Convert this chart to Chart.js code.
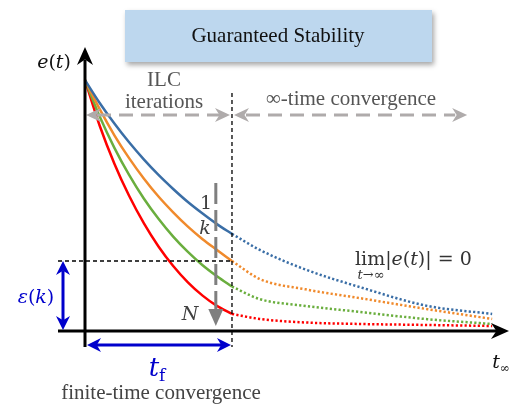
<!DOCTYPE html>
<html>
<head>
<meta charset="utf-8">
<script src="https://cdn.jsdelivr.net/npm/chart.js@4.4.1/dist/chart.umd.min.js"></script>
<style>
  html, body { margin: 0; padding: 0; background: #fff; }
  #wrap { width: 519px; height: 407px; }
</style>
</head>
<body>
<div id="wrap"><canvas id="chart" width="519" height="407"></canvas></div>
<script>
// time, in units of t_f
const tFinite = [0, 0.1, 0.2, 0.3, 0.4, 0.5, 0.6, 0.7, 0.8, 0.9, 1.0];
const tInfinite = [1.0, 1.19, 1.5, 1.87, 2.33, 2.77];

// e(t) per ILC iteration, solid part (0..t_f)
const errIter1 = [1.0, 0.909, 0.827, 0.752, 0.684, 0.622, 0.566, 0.514, 0.468, 0.425, 0.387];
const errIterK = [1.0, 0.884, 0.780, 0.689, 0.608, 0.536, 0.473, 0.416, 0.366, 0.322, 0.279];
const errIterK2 = [1.0, 0.855, 0.730, 0.622, 0.528, 0.447, 0.376, 0.315, 0.262, 0.217, 0.177];
const errIterN = [1.0, 0.818, 0.667, 0.539, 0.430, 0.337, 0.259, 0.194, 0.141, 0.099, 0.068];

// e(t) after t_f (dotted, infinite-time convergence)
const tailIter1 = [0.387, 0.323, 0.245, 0.175, 0.100, 0.068];
const tailIterK = [0.279, 0.207, 0.166, 0.131, 0.087, 0.048];
const tailIterK2 = [0.177, 0.127, 0.100, 0.076, 0.047, 0.028];
const tailIterN = [0.068, 0.048, 0.034, 0.028, 0.024, 0.020];

const colors = {
    blue: '#3a6ea6',
    orange: '#f08a2c',
    green: '#6aae3e',
    red: '#ff0000',
    navy: '#0000cc',
    grayArrow: '#afabab',
    grayIter: '#7f7f7f',
    text: '#555555'
};

const serif = '"Liberation Serif", "Times New Roman", serif';
const math = '"DejaVu Serif", serif';

function pts(ts, es) {
    return ts.map((t, i) => ({ x: t, y: es[i] }));
}

function solid(es, color) {
    return { data: pts(tFinite, es), borderColor: color, borderWidth: 2.5, cubicInterpolationMode: 'monotone', pointRadius: 0, fill: false };
}

function dotted(es, color) {
    return { data: pts(tInfinite, es), borderColor: color, borderWidth: 2.5, borderDash: [2.2, 2.2], borderCapStyle: 'butt', cubicInterpolationMode: 'monotone', pointRadius: 0, fill: false };
}

// filled "stealth" arrow head, tip at (x, y)
function head(ctx, x, y, angle, len, half, color) {
    ctx.save();
    ctx.translate(x, y);
    ctx.rotate(angle);
    ctx.beginPath();
    ctx.moveTo(0, 0);
    ctx.lineTo(-len, -half);
    ctx.lineTo(-len * 0.7, 0);
    ctx.lineTo(-len, half);
    ctx.closePath();
    ctx.fillStyle = color;
    ctx.fill();
    ctx.restore();
}

function line(ctx, x1, y1, x2, y2, color, width, dash) {
    ctx.save();
    ctx.beginPath();
    ctx.setLineDash(dash || []);
    ctx.moveTo(x1, y1);
    ctx.lineTo(x2, y2);
    ctx.strokeStyle = color;
    ctx.lineWidth = width;
    ctx.stroke();
    ctx.restore();
}

// text made of runs in different fonts: [text, font, dy]
function rich(ctx, parts, x, y, align) {
    let w = 0;
    parts.forEach(p => { ctx.font = p[1]; w += ctx.measureText(p[0]).width; });
    let cx = align === 'center' ? x - w / 2 : x;
    ctx.textAlign = 'left';
    parts.forEach(p => {
        ctx.font = p[1];
        ctx.fillText(p[0], cx, y + (p[2] || 0));
        cx += ctx.measureText(p[0]).width;
    });
}

const diagram = {
    id: 'diagram',
    afterDatasetsDraw(chart) {
        const ctx = chart.ctx;
        const xs = chart.scales.x, ys = chart.scales.y;
        const px = v => xs.getPixelForValue(v);
        const py = v => ys.getPixelForValue(v);
        const x0 = px(0), y0 = py(0), xf = px(1);
        const yEps = py(tailIterK[0]);

        // title box
        ctx.save();
        ctx.shadowColor = 'rgba(0,0,0,0.35)';
        ctx.shadowBlur = 5;
        ctx.shadowOffsetX = 2;
        ctx.shadowOffsetY = 3;
        ctx.fillStyle = '#bdd7ee';
        ctx.fillRect(125, 10, 307, 52);
        ctx.restore();
        ctx.fillStyle = '#111';
        ctx.font = '21px ' + serif;
        ctx.textAlign = 'center';
        ctx.textBaseline = 'alphabetic';
        ctx.fillText('Guaranteed Stability', 278, 42);

        // t_f and epsilon guides
        line(ctx, xf, 93, xf, y0 + 16, '#000', 1.3, [4, 3]);
        line(ctx, 58, yEps, xf, yEps, '#000', 1.3, [4, 3]);

        // gray double arrows (ILC iterations / infinite-time)
        const ya = py(0.861);
        line(ctx, x0 + 12, ya, xf - 12, ya, colors.grayArrow, 3, [14, 8]);
        head(ctx, x0 + 1, ya, Math.PI, 15, 7, colors.grayArrow);
        head(ctx, xf - 2, ya, 0, 15, 7, colors.grayArrow);
        line(ctx, xf + 14, ya, px(2.6) - 12, ya, colors.grayArrow, 3, [14, 8]);
        head(ctx, xf + 2, ya, Math.PI, 15, 7, colors.grayArrow);
        head(ctx, px(2.6), ya, 0, 15, 7, colors.grayArrow);

        // iteration direction arrow
        const xi = px(0.89);
        line(ctx, xi, 183, xi, 312, colors.grayIter, 3, [21, 6]);
        ctx.save();
        ctx.beginPath();
        ctx.moveTo(xi - 7.5, 309);
        ctx.lineTo(xi + 7.5, 309);
        ctx.lineTo(xi, 326);
        ctx.closePath();
        ctx.fillStyle = colors.grayIter;
        ctx.fill();
        ctx.restore();

        // axes
        line(ctx, x0, y0 + 16, x0, 60, '#000', 3);
        head(ctx, x0, 47, -Math.PI / 2, 18, 8, '#000');
        line(ctx, 58, y0, 498, y0, '#000', 3);
        head(ctx, 509, y0, 0, 18, 8, '#000');

        // epsilon(k) arrow
        line(ctx, 63, yEps + 10, 63, y0 - 10, colors.navy, 3);
        head(ctx, 63, yEps, -Math.PI / 2, 14, 7, colors.navy);
        head(ctx, 63, y0 - 1, Math.PI / 2, 14, 7, colors.navy);

        // t_f arrow
        const yt = y0 + 14;
        line(ctx, x0 + 10, yt, xf - 10, yt, colors.navy, 3);
        head(ctx, x0 + 2, yt, Math.PI, 14, 7, colors.navy);
        head(ctx, xf - 1, yt, 0, 14, 7, colors.navy);

        // labels
        ctx.textBaseline = 'alphabetic';
        ctx.fillStyle = '#111';
        rich(ctx, [['e', 'italic 19px ' + math], ['(', '19px ' + math], ['t', 'italic 19px ' + math], [')', '19px ' + math]], 54, 68, 'center');

        ctx.fillStyle = colors.text;
        ctx.textAlign = 'center';
        ctx.font = '21px ' + serif;
        ctx.fillText('ILC', 164, 86);
        ctx.fillText('iterations', 164, 108);
        ctx.fillText('\u221e-time convergence', 351, 105);

        ctx.fillStyle = '#444';
        ctx.fillText('finite-time convergence', 161, 399);

        ctx.fillStyle = '#404040';
        ctx.font = '19px ' + math;
        ctx.fillText('1', 206, 209);
        ctx.font = 'italic 19px ' + math;
        ctx.fillText('k', 205, 234);
        ctx.fillText('N', 190, 320);

        ctx.fillStyle = '#333';
        rich(ctx, [['lim', '19px ' + math], ['|', '19px ' + math], ['e', 'italic 19px ' + math], ['(', '19px ' + math],
                   ['t', 'italic 19px ' + math], [')', '19px ' + math], ['| = 0', '19px ' + math]], 355, 265, 'left');
        rich(ctx, [['t', 'italic 13px ' + math], ['\u2192\u221e', '13px ' + math]], 371, 279, 'center');

        ctx.fillStyle = '#111';
        rich(ctx, [['t', 'italic 19px ' + math], ['\u221e', '12px ' + math, 4]], 501, 368, 'center');

        ctx.fillStyle = colors.navy;
        rich(ctx, [['\u03b5', 'italic 19px ' + math], ['(', '19px ' + math], ['k', 'italic 19px ' + math], [')', '19px ' + math]], 36, 303, 'center');
        rich(ctx, [['t', 'italic 26px ' + math], ['f', '17px ' + math, 5]], 157, 376, 'center');
    }
};

new Chart(document.getElementById('chart'), {
    type: 'line',
    data: {
        datasets: [
            solid(errIter1, colors.blue),
            solid(errIterK, colors.orange),
            solid(errIterK2, colors.green),
            solid(errIterN, colors.red),
            dotted(tailIter1, colors.blue),
            dotted(tailIterK, colors.orange),
            dotted(tailIterK2, colors.green),
            dotted(tailIterN, colors.red)
        ]
    },
    options: {
        responsive: false,
        animation: false,
        layout: { padding: { left: 85, right: 12, top: 50, bottom: 76 } },
        scales: {
            x: { type: 'linear', min: 0, max: 2.871, display: false },
            y: { min: 0, max: 1.12, display: false }
        },
        plugins: {
            legend: { display: false },
            tooltip: { enabled: false }
        },
        clip: false
    },
    plugins: [diagram]
});
</script>
</body>
</html>
